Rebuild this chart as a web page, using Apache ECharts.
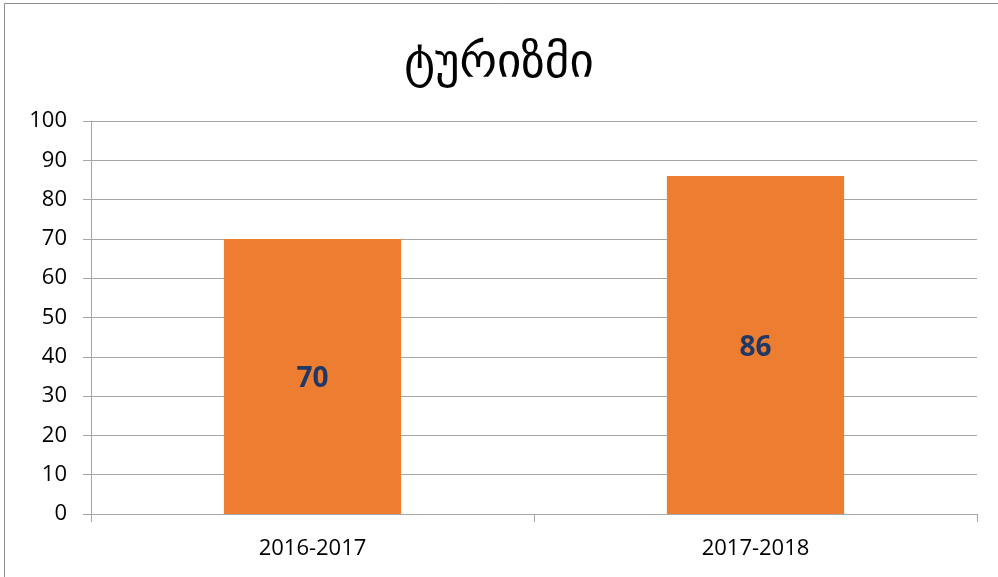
<!DOCTYPE html>
<html>
<head>
<meta charset="utf-8">
<script src="https://cdn.jsdelivr.net/npm/echarts@6/dist/echarts.min.js"></script>
<style>
    html, body { margin: 0; padding: 0; background: #fff; }
    #main { width: 998px; height: 577px; }
</style>
</head>
<body>
<div id="main"></div>
<script>
var titleText = 'ტურიზმი';
var categories = ['2016-2017', '2017-2018'];
var values = [70, 86];
var yTicks = [0, 10, 20, 30, 40, 50, 60, 70, 80, 90, 100];

var myChart = echarts.init(document.getElementById('main'));
var option = {
    backgroundColor: '#fff',
    animation: false,
    title: {
        text: titleText,
        left: 'center',
        top: 36,
        textStyle: {
            fontFamily: 'DejaVu Sans',
            fontSize: 47,
            fontWeight: 'normal',
            color: '#000'
        }
    },
    graphic: [{
        type: 'rect',
        shape: { x: 4.5, y: 3.5, width: 1000, height: 600 },
        style: { fill: 'none', stroke: '#8c8c8c', lineWidth: 1 },
        silent: true
    }],
    grid: { left: 91, right: 21, top: 121, bottom: 63 },
    xAxis: {
        type: 'category',
        data: categories,
        boundaryGap: true,
        axisLine: { show: true, lineStyle: { color: '#a6a6a6', width: 1 } },
        axisTick: { show: true, length: 8, alignWithLabel: false, lineStyle: { color: '#a6a6a6' } },
        axisLabel: {
            margin: 24,
            fontFamily: 'Open Sans',
            fontSize: 22,
            color: '#000'
        }
    },
    yAxis: {
        type: 'value',
        min: yTicks[0],
        max: yTicks[yTicks.length - 1],
        interval: 10,
        axisLine: { show: true, lineStyle: { color: '#a6a6a6', width: 1 } },
        axisTick: { show: true, length: 8, lineStyle: { color: '#a6a6a6' } },
        splitLine: { show: true, lineStyle: { color: '#a6a6a6', width: 1 } },
        axisLabel: {
            margin: 24,
            fontFamily: 'Open Sans',
            fontSize: 22,
            color: '#000'
        }
    },
    series: [{
        type: 'bar',
        data: values,
        barWidth: '40%',
        itemStyle: { color: '#ED7D31' },
        label: {
            show: true,
            position: 'inside',
            offset: [0, 3],
            fontFamily: 'Open Sans',
            fontSize: 28,
            fontWeight: 'bold',
            color: '#1F3864'
        }
    }]
};
myChart.setOption(option);
</script>
</body>
</html>
